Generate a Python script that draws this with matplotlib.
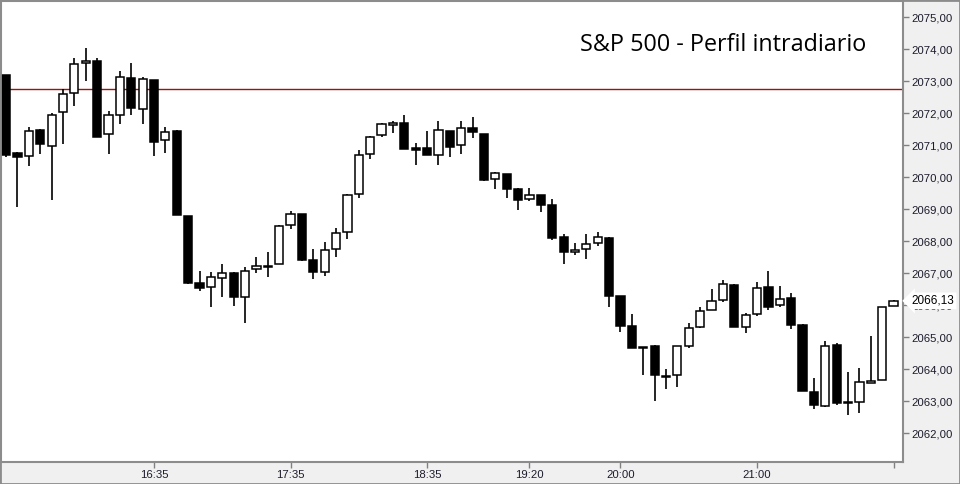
import matplotlib
matplotlib.use('Agg')
import matplotlib.pyplot as plt
from matplotlib.patches import Rectangle

# 5-minute bars, 15:30 to 22:00
times = ['%02d:%02d' % divmod(15 * 60 + 30 + 5 * i, 60) for i in range(79)]

opens = [2073.19, 2070.75, 2070.66, 2071.47, 2070.98, 2072.02, 2072.62, 2073.55, 2073.63, 2071.33,
         2071.93, 2073.08, 2072.13, 2073.03, 2071.15, 2071.44, 2068.77, 2066.69, 2066.57, 2066.85,
         2067.00, 2066.26, 2067.12, 2067.18, 2067.27, 2068.49, 2068.83, 2067.40, 2067.02, 2067.74,
         2068.27, 2069.46, 2070.71, 2071.30, 2071.64, 2071.68, 2070.90, 2070.90, 2070.68, 2071.44,
         2070.99, 2071.52, 2071.34, 2069.93, 2070.08, 2069.63, 2069.30, 2069.43, 2069.12, 2068.12,
         2067.65, 2067.74, 2067.93, 2068.09, 2066.28, 2065.33, 2064.69, 2064.72, 2063.78, 2063.80,
         2064.73, 2065.32, 2065.83, 2066.15, 2066.62, 2065.30, 2065.71, 2066.55, 2065.99, 2066.21,
         2065.37, 2063.27, 2062.83, 2064.74, 2062.97, 2062.98, 2063.55, 2063.65, 2065.98]
highs = [2073.19, 2070.78, 2071.56, 2071.50, 2072.00, 2072.74, 2073.71, 2074.03, 2073.71, 2072.06,
         2073.31, 2073.56, 2073.13, 2073.03, 2071.56, 2071.47, 2068.77, 2067.06, 2067.02, 2067.28,
         2067.03, 2067.18, 2067.50, 2067.66, 2068.49, 2068.93, 2068.83, 2067.75, 2067.97, 2068.41,
         2069.46, 2070.84, 2071.28, 2071.69, 2071.75, 2071.94, 2071.06, 2071.44, 2071.75, 2071.44,
         2071.75, 2071.88, 2071.34, 2070.15, 2070.08, 2069.66, 2069.66, 2069.43, 2069.31, 2068.22,
         2067.94, 2068.22, 2068.28, 2068.12, 2066.28, 2065.71, 2064.69, 2064.75, 2064.00, 2064.71,
         2065.44, 2065.93, 2066.50, 2066.77, 2066.65, 2065.74, 2066.71, 2067.06, 2066.59, 2066.38,
         2065.40, 2063.72, 2064.86, 2064.80, 2063.91, 2064.03, 2065.03, 2065.93, 2066.15]
lows = [2070.62, 2069.07, 2070.35, 2070.73, 2069.28, 2071.04, 2072.23, 2073.01, 2071.26, 2070.73,
        2071.66, 2071.95, 2071.67, 2070.67, 2070.76, 2068.82, 2066.67, 2066.45, 2065.95, 2066.26,
        2065.98, 2065.45, 2067.01, 2066.88, 2067.27, 2068.38, 2067.38, 2066.82, 2066.92, 2067.51,
        2068.07, 2069.35, 2070.57, 2071.26, 2071.38, 2070.88, 2070.38, 2070.70, 2070.38, 2070.63,
        2070.73, 2071.23, 2069.88, 2069.63, 2069.35, 2068.98, 2069.26, 2068.92, 2068.04, 2067.29,
        2067.57, 2067.45, 2067.85, 2065.95, 2065.17, 2064.67, 2063.82, 2063.00, 2063.38, 2063.45,
        2064.67, 2065.29, 2065.83, 2066.10, 2065.32, 2065.13, 2065.65, 2065.85, 2065.95, 2065.26,
        2063.32, 2062.76, 2062.80, 2062.87, 2062.57, 2062.61, 2063.55, 2063.65, 2065.98]
closes = [2070.69, 2070.64, 2071.43, 2071.04, 2071.93, 2072.58, 2073.52, 2073.61, 2071.26, 2071.93,
          2073.12, 2072.17, 2073.05, 2071.10, 2071.40, 2068.82, 2066.70, 2066.54, 2066.87, 2066.99,
          2066.26, 2067.05, 2067.21, 2067.22, 2068.46, 2068.83, 2067.42, 2067.04, 2067.71, 2068.24,
          2069.43, 2070.68, 2071.24, 2071.65, 2071.69, 2070.88, 2070.85, 2070.70, 2071.46, 2070.95,
          2071.52, 2071.40, 2069.92, 2070.11, 2069.63, 2069.29, 2069.43, 2069.13, 2068.10, 2067.65,
          2067.71, 2067.90, 2068.12, 2066.29, 2065.35, 2064.67, 2064.65, 2063.82, 2063.74, 2064.71,
          2065.27, 2065.80, 2066.11, 2066.65, 2065.32, 2065.70, 2066.52, 2065.95, 2066.18, 2065.38,
          2063.32, 2062.87, 2064.73, 2062.95, 2062.93, 2063.58, 2063.61, 2065.93, 2066.13]

ref_level = 2072.74
last_price = 2066.13
y_ticks = list(range(2062, 2076))
x_tick_labels = ['16:35', '17:35', '18:35', '19:20', '20:00', '21:00', '22:00']
title = 'S&P 500 - Perfil intradiario'

fig = plt.figure(figsize=(9.6, 4.84), dpi=100, facecolor='#f0f0f0')
ax = fig.add_axes([1 / 960, 22 / 484, 902 / 960, 461 / 484])
ax.set_facecolor('white')

x = list(range(len(opens)))
ax.vlines(x, lows, highs, color='black', lw=1.2, zorder=2)
up = [c >= o for o, c in zip(opens, closes)]
bottoms = [min(o, c) for o, c in zip(opens, closes)]
heights = [max(abs(c - o), 0.04) for o, c in zip(opens, closes)]
ax.bar(x, heights, bottom=bottoms, width=0.72,
       color=['white' if u else 'black' for u in up],
       edgecolor='black', linewidth=1.1, zorder=3)

# previous close reference line
ax.axhline(ref_level, color='#a01010', lw=1, zorder=1)

ax.set_xlim(-0.45, 78.83)
ax.set_ylim(2061.094, 2075.5)

ax.yaxis.tick_right()
ax.set_yticks(y_ticks)
ax.set_yticklabels([('%.2f' % v).replace('.', ',') for v in y_ticks])
ticks_x = [times.index(t) for t in x_tick_labels]
ax.set_xticks(ticks_x)
ax.set_xticklabels(x_tick_labels[:-1] + [''])
ax.tick_params(axis='both', length=4, width=1, color='#808080', labelsize=8.2,
               labelcolor='#1c1c2c', pad=2)
for lab in ax.get_xticklabels() + ax.get_yticklabels():
    lab.set_family('Liberation Sans')
for s in ax.spines.values():
    s.set_color('#8c8c8c')
    s.set_linewidth(1.5)

ax.annotate(('%.2f' % last_price).replace('.', ','), xy=(1.0, last_price),
            xycoords=('axes fraction', 'data'), xytext=(6, 0), textcoords='offset points',
            va='center', ha='left', fontsize=8.5, family='Liberation Sans', color='black',
            bbox=dict(boxstyle='larrow,pad=0.2', fc='white', ec='none'),
            annotation_clip=False, zorder=10)

ax.text(0.959, 0.905, title, transform=ax.transAxes, ha='right', va='center',
        fontsize=16.8, family='Open Sans', color='black')

fig.patches.append(Rectangle((0, 0), 1, 1, transform=fig.transFigure, fill=False,
                             ec='#8c8c8c', lw=2))

fig.savefig('out.png', dpi=100, facecolor=fig.get_facecolor())
